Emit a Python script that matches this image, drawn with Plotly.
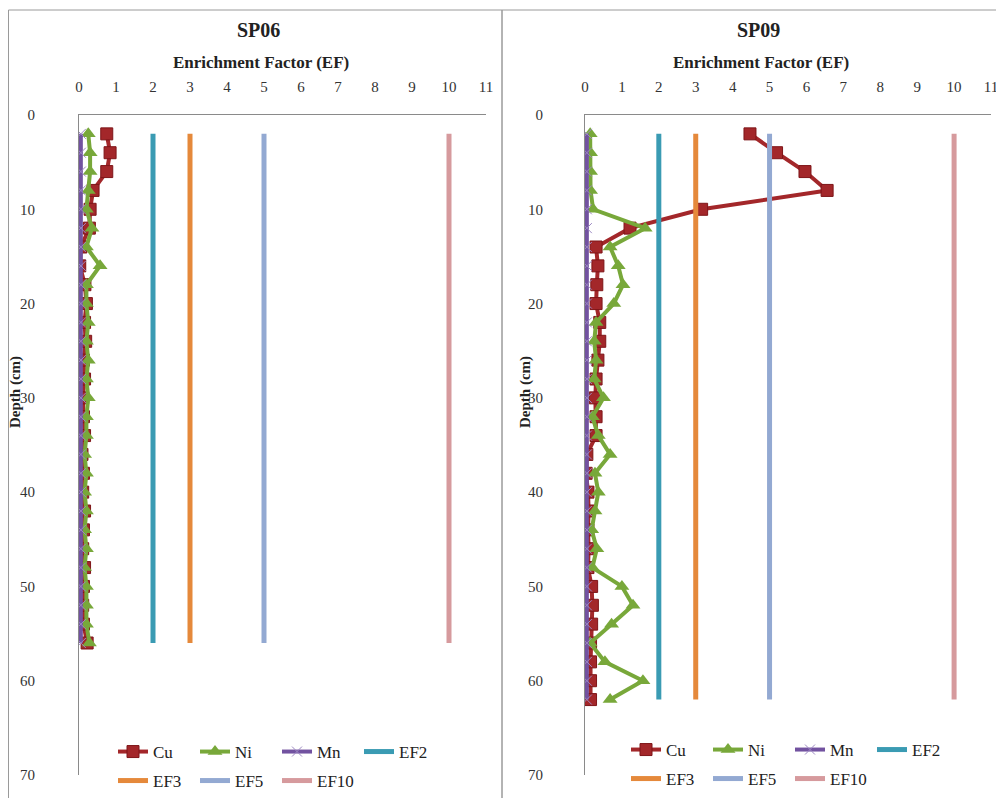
import plotly.graph_objects as go

# ---------------- data ----------------
depth_sp06 = [2, 4, 6, 8, 10, 12, 14, 16, 18, 20, 22, 24, 26, 28, 30, 32, 34, 36, 38, 40,
              42, 44, 46, 48, 50, 52, 54, 56]
cu_sp06 = [0.75, 0.84, 0.75, 0.38, 0.30, 0.28, 0.05, 0.02, 0.16, 0.20, 0.15, 0.18, 0.12, 0.15,
           0.10, 0.12, 0.15, 0.08, 0.12, 0.10, 0.15, 0.12, 0.10, 0.15, 0.12, 0.10, 0.12, 0.22]
ni_sp06 = [0.25, 0.30, 0.30, 0.25, 0.20, 0.35, 0.20, 0.57, 0.20, 0.20, 0.25, 0.20, 0.25, 0.20,
           0.25, 0.20, 0.20, 0.15, 0.20, 0.15, 0.20, 0.15, 0.20, 0.15, 0.20, 0.20, 0.20, 0.28]
mn_sp06 = [0.05, 0.05, 0.05, 0.05, 0.05, 0.05, 0.05, 0.05, 0.05, 0.05, 0.05, 0.05, 0.05, 0.05,
           0.05, 0.05, 0.05, 0.05, 0.05, 0.05, 0.05, 0.05, 0.05, 0.05, 0.05, 0.05, 0.05, 0.05]

depth_sp09 = [2, 4, 6, 8, 10, 12, 14, 16, 18, 20, 22, 24, 26, 28, 30, 32, 34, 36, 38, 40,
              42, 44, 46, 48, 50, 52, 54, 56, 58, 60, 62]
cu_sp09 = [4.47, 5.19, 5.96, 6.56, 3.16, 1.22, 0.30, 0.35, 0.32, 0.30, 0.40, 0.40, 0.35, 0.30,
           0.28, 0.30, 0.30, 0.05, 0.03, 0.08, 0.10, 0.08, 0.10, 0.08, 0.18, 0.20, 0.18, 0.15,
           0.15, 0.15, 0.15]
ni_sp09 = [0.14, 0.15, 0.15, 0.15, 0.22, 1.63, 0.68, 0.90, 1.03, 0.78, 0.30, 0.25, 0.30, 0.25,
           0.50, 0.20, 0.36, 0.68, 0.27, 0.36, 0.27, 0.18, 0.32, 0.20, 1.00, 1.30, 0.72, 0.14,
           0.54, 1.57, 0.68]
mn_sp09 = [0.05, 0.05, 0.05, 0.05, 0.05, 0.05, 0.05, 0.05, 0.05, 0.05, 0.05, 0.05, 0.05, 0.05,
           0.05, 0.05, 0.05, 0.05, 0.05, 0.05, 0.05, 0.05, 0.05, 0.05, 0.05, 0.05, 0.05, 0.05,
           0.05, 0.05, 0.05]

ef_names = ["EF2", "EF3", "EF5", "EF10"]
ef_levels = [2, 3, 5, 10]
x_ticks = [0, 1, 2, 3, 4, 5, 6, 7, 8, 9, 10, 11]
y_ticks = [0, 10, 20, 30, 40, 50, 60, 70]

# ---------------- style ----------------
W, H = 1004, 798
OFF = 8  # default page body margin
FONT = "Liberation Serif"
C_CU, C_CU_EDGE = "#A3272A", "#7E1518"
C_NI = "#78A83A"
C_MN = "#7252A0"
EF_COLORS = ["#3A9BB3", "#E5893B", "#93A9D2", "#D69A9D"]


def px_x(p):
    return (p - OFF) / W


def px_y(p):
    return 1 - (p - OFF) / H


fig = go.Figure()

panels = [
    dict(name="SP06", depth=depth_sp06, cu=cu_sp06, ni=ni_sp06, mn=mn_sp06,
         xa="x", ya="y", lg=("legend", "legend2")),
    dict(name="SP09", depth=depth_sp09, cu=cu_sp09, ni=ni_sp09, mn=mn_sp09,
         xa="x2", ya="y2", lg=("legend3", "legend4")),
]

for p in panels:
    fig.add_trace(go.Scatter(
        x=p["cu"], y=p["depth"], name="Cu", mode="lines+markers",
        xaxis=p["xa"], yaxis=p["ya"], legend=p["lg"][0],
        line=dict(color=C_CU, width=4),
        marker=dict(symbol="square", size=12, color=C_CU, line=dict(color=C_CU_EDGE, width=1)),
    ))
    fig.add_trace(go.Scatter(
        x=p["ni"], y=p["depth"], name="Ni", mode="lines+markers",
        xaxis=p["xa"], yaxis=p["ya"], legend=p["lg"][0],
        line=dict(color=C_NI, width=4),
        marker=dict(symbol="triangle-up", size=13, color=C_NI),
    ))
    fig.add_trace(go.Scatter(
        x=p["mn"], y=p["depth"], name="Mn", mode="lines+markers",
        xaxis=p["xa"], yaxis=p["ya"], legend=p["lg"][0],
        line=dict(color=C_MN, width=4),
        marker=dict(symbol="x-thin", size=10, color="#9C88C2", line=dict(color="#9C88C2", width=1)),
    ))
    for i, (nm, lv) in enumerate(zip(ef_names, ef_levels)):
        fig.add_trace(go.Scatter(
            x=[lv] * len(p["depth"]), y=p["depth"], name=nm, mode="lines",
            xaxis=p["xa"], yaxis=p["ya"], legend=p["lg"][0] if i == 0 else p["lg"][1],
            line=dict(color=EF_COLORS[i], width=5),
        ))

axis_common = dict(
    showgrid=False, zeroline=False, showline=True, linecolor="#8A8A8A", linewidth=1,
    ticks="outside", tickcolor="rgba(0,0,0,0)", automargin=False,
    tickfont=dict(family=FONT, size=15, color="#333333"),
)

ydom = [px_y(775), px_y(115)]
fig.update_layout(
    width=W, height=H, autosize=False,
    margin=dict(l=0, r=0, t=0, b=0, autoexpand=False),
    paper_bgcolor="white", plot_bgcolor="white",
    font=dict(family=FONT, color="#222222"),
    xaxis=dict(domain=[px_x(79), px_x(486)], range=[0, 11], side="top", anchor="y",
               tickvals=x_ticks, ticklen=16, **axis_common),
    yaxis=dict(domain=ydom, range=[70, 0], anchor="x", tickvals=y_ticks, ticklen=40,
               **axis_common),
    xaxis2=dict(domain=[px_x(585), px_x(991)], range=[0, 11], side="top", anchor="y2",
                tickvals=x_ticks, ticklen=16, **axis_common),
    yaxis2=dict(domain=ydom, range=[70, 0], anchor="x2", tickvals=y_ticks, ticklen=38,
                **axis_common),
)

leg_common = dict(orientation="h", xanchor="left", yanchor="middle", bgcolor="rgba(0,0,0,0)",
                  xref="container", yref="container",
                  font=dict(family=FONT, size=17, color="#222222"),
                  entrywidth=37, entrywidthmode="pixels", itemclick=False)
fig.update_layout(
    legend=dict(x=px_x(113), y=px_y(752), **leg_common),
    legend2=dict(x=px_x(113), y=px_y(781), **leg_common),
    legend3=dict(x=px_x(626), y=px_y(750), **leg_common),
    legend4=dict(x=px_x(626), y=px_y(779), **leg_common),
)

# panel frames
frame = dict(type="rect", xref="paper", yref="paper", line=dict(color="#9A9A9A", width=1),
             fillcolor="rgba(0,0,0,0)", layer="below")
fig.add_shape(x0=px_x(8.5), x1=px_x(502), y0=px_y(810), y1=px_y(10), **frame)
fig.add_shape(x0=px_x(502), x1=px_x(1003), y0=px_y(810), y1=px_y(10), **frame)

ann = []
for cx, name, dx, dy in [(258, "SP06", 15, 392), (758, "SP09", 525, 392)]:
    ann.append(dict(x=px_x(cx), y=px_y(30), xref="paper", yref="paper", text="<b>%s</b>" % name,
                    xanchor="center", yanchor="middle", showarrow=False,
                    font=dict(family=FONT, size=20, color="#222222")))
    ann.append(dict(x=px_x(cx + 3), y=px_y(62), xref="paper", yref="paper",
                    text="<b>Enrichment Factor (EF)</b>", xanchor="center", yanchor="middle",
                    showarrow=False, font=dict(family=FONT, size=17, color="#222222")))
    ann.append(dict(x=px_x(dx), y=px_y(dy), xref="paper", yref="paper", text="<b>Depth (cm)</b>",
                    textangle=-90, xanchor="center", yanchor="middle", showarrow=False,
                    font=dict(family=FONT, size=15, color="#222222")))
fig.update_layout(annotations=ann)

fig.write_html("out.html")
